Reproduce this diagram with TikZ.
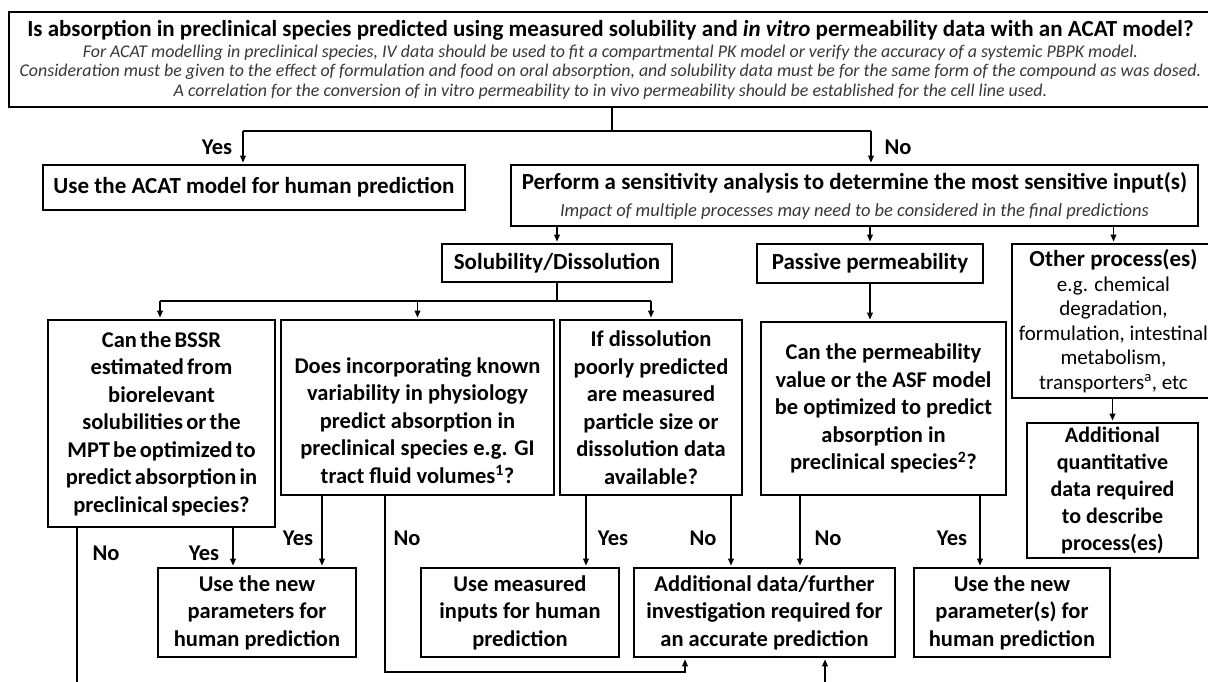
\documentclass[tikz,border=0pt]{standalone}
\usepackage{fontspec}
\setmainfont{Carlito}
\usetikzlibrary{arrows.meta}
\pgfdeclarelayer{edgelayer}
\pgfdeclarelayer{nodelayer}
\pgfsetlayers{edgelayer,nodelayer,main}
\tikzstyle{edge}=[draw=black, line width=1.8pt]
\tikzstyle{arrow}=[draw=black, line width=1.8pt, -{Triangle[length=7pt,width=5.5pt]}, shorten >=1pt]
\tikzstyle{box}=[rectangle, draw=black, line width=2.6pt, fill=white, align=center, inner sep=0pt, font=\fontsize{22.5}{27.5}\selectfont\bfseries]
\tikzstyle{answer}=[inner sep=0pt, font=\fontsize{22.5}{25}\selectfont\bfseries]
\newcommand{\remark}[1]{{\itshape\color{black!78}#1}}
\newcommand{\tightspace}{\spaceskip 0.14em\relax}

\begin{document}
\begin{tikzpicture}[x=1pt, y=-1pt]
			\useasboundingbox (0,0) rectangle (1208,682);
			\begin{pgfonlayer}{nodelayer}
			\node [style=box, minimum width=1203pt, minimum height=95pt, font=\fontsize{17.9}{19.5}\selectfont] (0) at (610.5,59.5) {{\fontsize{23}{19.5}\selectfont\bfseries Is absorption in preclinical species predicted using measured solubility and \textit{in vitro} permeability data with an ACAT model?}\\[1.5pt]
				\remark{For ACAT modelling in preclinical species, IV data should be used to fit a compartmental PK model or verify the accuracy of a systemic PBPK model.}\\
				\remark{Consideration must be given to the effect of formulation and food on oral absorption, and solubility data must be for the same form of the compound as was dosed.}\\
				\remark{A correlation for the conversion of in vitro permeability to in vivo permeability should be established for the cell line used.}};
			\node [style=box, minimum width=422pt, minimum height=45pt, font=\fontsize{23}{27}\selectfont\bfseries] (1) at (254,187.5) {Use the ACAT model for human prediction};
			\node [style=box, minimum width=687pt, minimum height=61pt, font=\fontsize{23}{27}\selectfont\bfseries] (2) at (854.5,195.5) {Perform a sensitivity analysis to determine the most sensitive input(s)\\
				{\fontsize{18.5}{27}\selectfont\mdseries\remark{Impact of multiple processes may need to be considered in the final predictions}}};
			\node [style=box, minimum width=230pt, minimum height=38pt, font=\fontsize{23}{27}\selectfont\bfseries] (3) at (557,263) {Solubility/Dissolution};
			\node [style=box, minimum width=226pt, minimum height=39pt, font=\fontsize{23}{27}\selectfont\bfseries] (4) at (870,263.5) {Passive permeability};
			\node [style=box, minimum width=203pt, minimum height=154pt, font=\fontsize{21}{24.5}\selectfont] (5) at (1113.5,321) {{\fontsize{23}{24.5}\selectfont\bfseries Other process(es)}\\
				e.g. chemical\\degradation,\\formulation, intestinal\\metabolism,\\transporters\textsuperscript{a}, etc};
			\node [style=box, minimum width=227pt, minimum height=207pt, font=\fontsize{22.5}{27.5}\selectfont\bfseries\tightspace] (6) at (161.5,423.5) {Can the BSSR\\estimated from\\biorelevant\\solubilities or the\\MPT be optimized to\\predict absorption in\\preclinical species?};
			\node [style=box, minimum width=273pt, minimum height=175pt] (7) at (417.5,407.5) {\rule{0pt}{42pt}Does incorporating known\\variability in physiology\\predict absorption in\\preclinical species e.g. GI\\tract fluid volumes\textsuperscript{1}?};
			\node [style=box, minimum width=182pt, minimum height=175pt] (8) at (651,407.5) {If dissolution\\poorly predicted\\are measured\\particle size or\\dissolution data\\available?};
			\node [style=box, minimum width=245pt, minimum height=173pt] (9) at (883.5,408.5) {Can the permeability\\value or the ASF model\\be optimized to predict\\absorption in\\preclinical species\textsuperscript{2}?};
			\node [style=box, minimum width=171pt, minimum height=135pt, font=\fontsize{22}{27}\selectfont\bfseries] (10) at (1112.5,490.5) {Additional\\quantitative\\data required\\to describe\\process(es)};
			\node [style=box, minimum width=198pt, minimum height=89pt] (11) at (257,612.5) {Use the new\\parameters for\\human prediction};
			\node [style=box, minimum width=198pt, minimum height=89pt] (12) at (520,612.5) {Use measured\\inputs for human\\prediction};
			\node [style=box, minimum width=261pt, minimum height=89pt] (13) at (764.5,612.5) {Additional data/further\\investigation required for\\an accurate prediction};
			\node [style=box, minimum width=196pt, minimum height=89pt] (14) at (1012,612.5) {Use the new\\parameter(s) for\\human prediction};
			\node [style=answer] (15) at (217,147) {Yes};
			\node [style=answer] (16) at (898,147) {No};
			\node [style=answer] (17) at (106,553) {No};
			\node [style=answer] (18) at (204,553) {Yes};
			\node [style=answer] (19) at (298,538) {Yes};
			\node [style=answer] (20) at (407,538) {No};
			\node [style=answer] (21) at (613,538) {Yes};
			\node [style=answer] (22) at (703,538) {No};
			\node [style=answer] (23) at (828,538) {No};
			\node [style=answer] (24) at (952,538) {Yes};
			\end{pgfonlayer}
			\begin{pgfonlayer}{edgelayer}
			\coordinate (c0) at (612,131);
			\coordinate (c1) at (243,131);
			\coordinate (c2) at (871,131);
			\coordinate (c3) at (160,301);
			\coordinate (c4) at (651,301);
			\coordinate (c5) at (77,682);
			\coordinate (c6) at (233,568);
			\coordinate (c7) at (322,568);
			\coordinate (c8) at (385,672);
			\coordinate (c9) at (685,672);
			\coordinate (c10) at (586,568);
			\coordinate (c11) at (731,568);
			\coordinate (c12) at (800,568);
			\coordinate (c13) at (980,568);
			\coordinate (c14) at (825,682);
			\draw [style=edge] (0.south -| c0) -- (c0);
			\draw [style=edge] (c1) -- (c2);
			\draw [style=arrow] (c1) -- (c1 |- 1.north);
			\draw [style=arrow] (c2) -- (c2 |- 2.north);
			\draw [style=arrow] (3 |- 2.south) -- (3.north);
			\draw [style=arrow] (4 |- 2.south) -- (4.north);
			\draw [style=arrow] (5 |- 2.south) -- (5.north);
			\draw [style=edge] (3.south) -- (3.south |- c3);
			\draw [style=edge] (c3) -- (c4);
			\draw [style=arrow] (c3) -- (c3 |- 6.north);
			\draw [style=arrow] (7 |- c3) -- (7.north);
			\draw [style=arrow] (c4) -- (c4 |- 8.north);
			\draw [style=arrow] (4.south) -- (4.south |- 9.north);
			\draw [style=arrow] (10 |- 5.south) -- (10.north);
			\draw [style=edge] (6.south -| c5) -- (c5);
			\draw [style=arrow] (6.south -| c6) -- (c6 |- 11.north);
			\draw [style=arrow] (7.south -| c7) -- (c7 |- 11.north);
			\draw [style=arrow] (7.south -| c8) -- (c8) -- (c9) -- (c9 |- 13.south);
			\draw [style=arrow] (8.south -| c10) -- (c10 |- 12.north);
			\draw [style=arrow] (8.south -| c11) -- (c11 |- 13.north);
			\draw [style=arrow] (9.south -| c12) -- (c12 |- 13.north);
			\draw [style=arrow] (9.south -| c13) -- (c13 |- 14.north);
			\draw [style=arrow] (c14) -- (c14 |- 13.south);
			\end{pgfonlayer}
\end{tikzpicture}
\end{document}
